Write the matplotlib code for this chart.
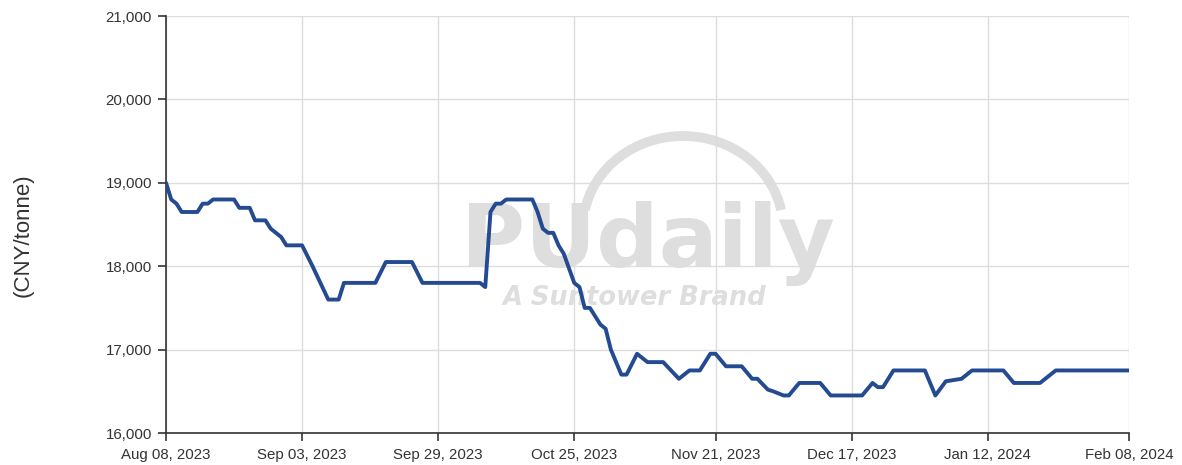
import matplotlib
matplotlib.use("Agg")
import matplotlib.pyplot as plt
from matplotlib.patches import Arc
import pandas as pd

plt.rcParams['font.family'] = ['Liberation Sans', 'DejaVu Sans']

# Data: days after 2023-08-08 and price (CNY/tonne)
start_date = "2023-08-08"
end_date = "2024-02-08"
day_offsets = [0, 1, 2, 3, 6, 7, 8, 9, 13, 14, 16, 17, 19, 20, 21, 22, 23, 26, 28,
               31, 33, 34, 40, 42, 47, 49, 60, 61, 62, 63, 64, 65, 70, 71, 72, 73, 74,
               75, 76, 78, 79, 80, 81, 83, 84, 85, 87, 88, 90, 91, 92, 95, 98, 100, 102,
               104, 105, 107, 110, 112, 113, 115, 116, 118, 119, 121, 125, 127, 133, 135,
               136, 137, 139, 145, 147, 149, 152, 154, 160, 162, 167, 170, 184]
prices = [19000, 18800, 18750, 18650, 18650, 18750, 18750, 18800, 18800, 18700, 18700,
          18550, 18550, 18450, 18400, 18350, 18250, 18250, 18000,
          17600, 17600, 17800, 17800, 18050, 18050, 17800, 17800, 17750, 18650, 18750,
          18750, 18800, 18800, 18650, 18450, 18400, 18400,
          18250, 18150, 17800, 17750, 17500, 17500, 17300, 17250, 17000, 16700, 16700,
          16950, 16900, 16850, 16850, 16650, 16750, 16750,
          16950, 16950, 16800, 16800, 16650, 16650, 16520, 16500, 16450, 16450, 16600,
          16600, 16450, 16450, 16600, 16550, 16550, 16750, 16750, 16450, 16620, 16650,
          16750, 16750, 16600, 16600, 16750, 16750]
tick_dates = ["2023-08-08", "2023-09-03", "2023-09-29", "2023-10-25", "2023-11-21",
              "2023-12-17", "2024-01-12", "2024-02-08"]
y_ticks = [16000, 17000, 18000, 19000, 20000, 21000]

dates = pd.Timestamp(start_date) + pd.to_timedelta(day_offsets, unit="D")

W, H = 1182, 465
fig = plt.figure(figsize=(W/100, H/100), dpi=100)
ax = fig.add_axes([166/W, 1-433/H, (1129-166)/W, (433-16)/H])
ax.set_zorder(2)
ax.patch.set_alpha(0)

# watermark (behind the axes content)
wm = "#dedede"
fig.text(648/W, 1-267/H, "PUdaily", ha="center", va="baseline", fontsize=63,
         fontweight="bold", color=wm, zorder=1, family="DejaVu Sans")
fig.text(634/W, 1-305/H, "A Suntower Brand", ha="center", va="baseline",
         fontsize=18.5, fontweight="bold", fontstyle="italic", color=wm, zorder=1,
         family="DejaVu Sans")
arc = Arc((683/W, 1-228/H), 200/W, 184/H, theta1=25, theta2=155,
          transform=fig.transFigure, color=wm, linewidth=7, zorder=1)
fig.patches.append(arc)

ax.plot(dates, prices, color="#244b91", linewidth=2.8, solid_joinstyle="round",
        solid_capstyle="round", zorder=3)

ax.set_xlim(pd.Timestamp(start_date), pd.Timestamp(end_date))
ax.set_ylim(16000, 21000)
ax.set_yticks(y_ticks)
ax.set_yticklabels([f"{v:,}" for v in y_ticks])
ax.set_xticks([pd.Timestamp(d) for d in tick_dates])
ax.set_xticklabels([pd.Timestamp(d).strftime("%b %d, %Y") for d in tick_dates])

ax.grid(True, color="#dddddd", linewidth=1)
ax.set_axisbelow(True)
for s in ["top", "right"]:
    ax.spines[s].set_visible(False)
for s in ["left", "bottom"]:
    ax.spines[s].set_color("#333333")
    ax.spines[s].set_linewidth(1.2)
ax.tick_params(axis="both", direction="out", length=6, width=1.2, color="#333333",
               labelsize=10.8, labelcolor="#333333")
ax.tick_params(axis="y", pad=4)
ax.tick_params(axis="x", pad=5)

fig.text(23/W, 1-235/H, "(CNY/tonne)", rotation=90, ha="center", va="center",
         fontsize=16, color="#333333")

fig.savefig("out.png", dpi=100)
